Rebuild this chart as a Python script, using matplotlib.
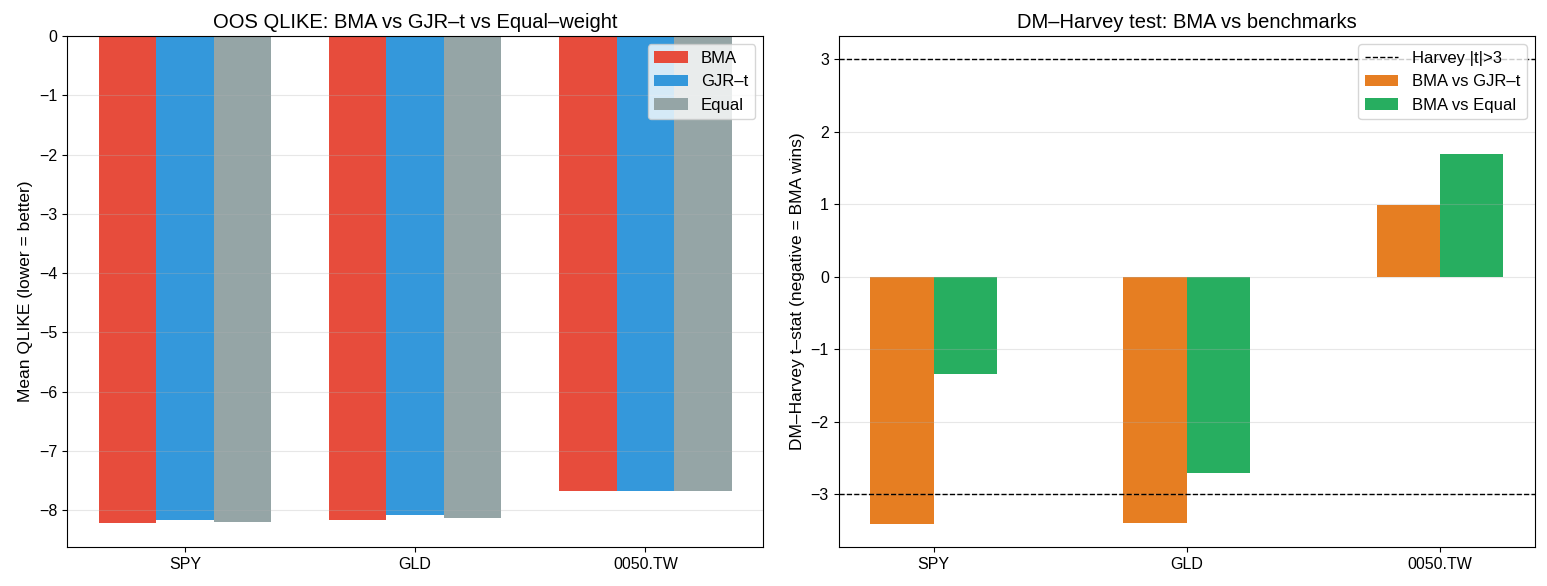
import numpy as np
import matplotlib
matplotlib.use('Agg')
import matplotlib.pyplot as plt

plt.rcParams['font.family'] = ['Liberation Sans', 'DejaVu Sans']

# ---------------- data ----------------
assets = ['SPY', 'GLD', '0050.TW']
qlike_bma = [-8.21, -8.17, -7.68]
qlike_gjr = [-8.17, -8.08, -7.68]
qlike_eq = [-8.20, -8.14, -7.68]

dm_vs_gjr = [-3.41, -3.40, 0.99]
dm_vs_eq = [-1.35, -2.71, 1.69]
harvey_t = 3.0

# ---------------- figure ----------------
x = np.arange(len(assets))
fig, (ax1, ax2) = plt.subplots(1, 2, figsize=(15.47, 5.86), dpi=100)
fig.subplots_adjust(left=0.0433, right=0.9922, top=0.9386, bottom=0.0666, wspace=0.108)

w = 0.25
ax1.bar(x - w, qlike_bma, w, color='#e74c3c', label='BMA')
ax1.bar(x, qlike_gjr, w, color='#3498db', label='GJR\u2013t')
ax1.bar(x + w, qlike_eq, w, color='#95a5a6', label='Equal')
ax1.set_xticks(x)
ax1.set_xticklabels(assets)
ax1.set_ylabel('Mean QLIKE (lower = better)', fontsize=12.5)
ax1.set_title('OOS QLIKE: BMA vs GJR\u2013t vs Equal\u2013weight', fontsize=14.5)
ax1.grid(axis='y', alpha=0.3)
ax1.legend(loc='upper right', fontsize=12)

w2 = 0.25
ax2.axhline(harvey_t, color='k', ls='--', lw=1, label='Harvey |t|>3')
ax2.axhline(-harvey_t, color='k', ls='--', lw=1)
ax2.bar(x - w2 / 2, dm_vs_gjr, w2, color='#e67e22', label='BMA vs GJR\u2013t')
ax2.bar(x + w2 / 2, dm_vs_eq, w2, color='#27ae60', label='BMA vs Equal')
ax2.set_xticks(x)
ax2.set_xticklabels(assets)
ax2.set_ylabel('DM\u2013Harvey t\u2013stat (negative = BMA wins)', fontsize=12.5)
ax2.set_title('DM\u2013Harvey test: BMA vs benchmarks', fontsize=14.5)
ax2.grid(axis='y', alpha=0.3)
ax2.legend(loc='upper right', fontsize=12)

for ax in (ax1, ax2):
    ax.tick_params(labelsize=11.5)

fig.savefig('out.png', dpi=100)
